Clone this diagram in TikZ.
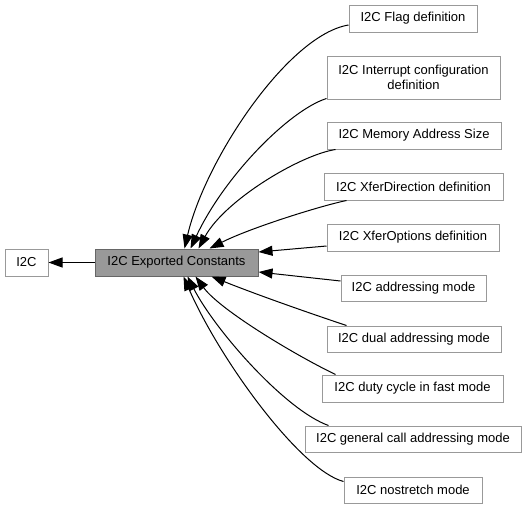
\documentclass[tikz,border=0pt]{standalone}
\usepackage{fontspec}
\setmainfont{Liberation Sans}
\usetikzlibrary{arrows.meta}
\definecolor{nodeborder}{HTML}{999999}
\definecolor{mainfill}{HTML}{999999}
\definecolor{mainborder}{HTML}{666666}
\begin{document}
\begin{tikzpicture}[x=1pt,y=-1pt,
  box/.style={draw=nodeborder,line width=1pt,fill=white,inner sep=0pt,align=center,
    font=\fontsize{13}{15}\selectfont},
  mainbox/.style={box,draw=mainborder,fill=mainfill},
  link/.style={line width=1pt,-{Triangle[length=14pt,width=10pt]}}]
\useasboundingbox (0,0) rectangle (527,509);
\node[box,minimum width=43pt,minimum height=27pt] (i2c) at (26.5,262.5) {I2C};
\node[mainbox,minimum width=163pt,minimum height=27pt] (main) at (176.5,262.5) {I2C Exported Constants};
\node[box,minimum width=128pt,minimum height=27pt] (flag) at (413,18.5) {I2C Flag definition};
\node[box,minimum width=173pt,minimum height=43pt] (intr) at (413.5,77.5) {I2C Interrupt configuration\\definition};
\node[box,minimum width=174pt,minimum height=27pt] (mem) at (414,135.5) {I2C Memory Address Size};
\node[box,minimum width=179pt,minimum height=27pt] (xdir) at (413.5,186.5) {I2C XferDirection definition};
\node[box,minimum width=172pt,minimum height=27pt] (xopt) at (413,237.5) {I2C XferOptions definition};
\node[box,minimum width=145pt,minimum height=26pt] (addr) at (413.5,288) {I2C addressing mode};
\node[box,minimum width=174pt,minimum height=26pt] (dual) at (414,339) {I2C dual addressing mode};
\node[box,minimum width=181pt,minimum height=27pt] (duty) at (412.5,388.5) {I2C duty cycle in fast mode};
\node[box,minimum width=216pt,minimum height=26pt] (gen) at (413,439) {I2C general call addressing mode};
\node[box,minimum width=138pt,minimum height=26pt] (nost) at (413,490) {I2C nostretch mode};

\draw[link] (main.west) -- (i2c.east);
\draw[link] ([yshift=-6.5pt]flag.west) .. controls (288,35) and (205,160) .. ([xshift=90pt]main.north west);
\draw[link] ([yshift=1pt]intr.south west) .. controls (290,110) and (225,175) .. ([xshift=96pt]main.north west);
\draw[link] ([xshift=9pt]mem.south west) .. controls (300,155) and (225,200) .. ([xshift=104pt]main.north west);
\draw[link] ([xshift=23pt]xdir.south west) .. controls (320,206) and (250,228) .. ([xshift=115pt]main.north west);
\draw[link] ([yshift=-8.5pt]xopt.west) -- ([yshift=10.5pt]main.east);
\draw[link] ([yshift=7pt]addr.west) -- ([yshift=-9.5pt]main.east);
\draw[link] ([xshift=20pt]dual.north west) .. controls (300,310) and (250,292) .. ([xshift=117pt]main.south west);
\draw[link] ([xshift=14pt]duty.north west) .. controls (295,355) and (220,310) .. ([xshift=101pt]main.south west);
\draw[link] ([xshift=24pt]gen.north west) .. controls (285,410) and (215,330) .. ([xshift=93pt]main.south west);
\draw[link] ([yshift=-5pt]nost.north west) .. controls (300,470) and (220,360) .. ([xshift=89pt]main.south west);
\end{tikzpicture}
\end{document}
